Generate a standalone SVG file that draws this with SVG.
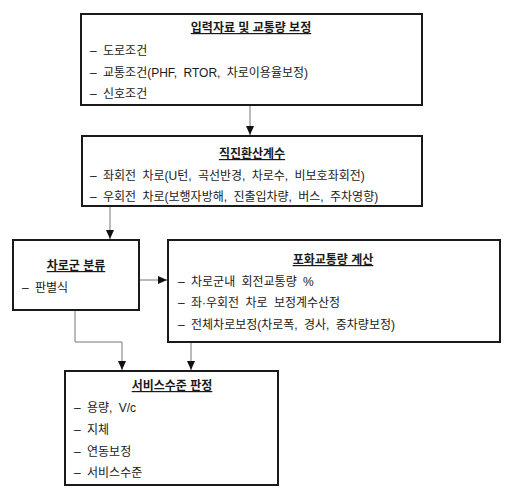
<svg xmlns="http://www.w3.org/2000/svg" width="513" height="498" viewBox="0 0 513 498">
<style>
.box{fill:#fff;stroke:#1a1a1a;stroke-width:2}
text{font-family:"Liberation Sans","Noto Sans CJK KR",sans-serif;font-size:12px;fill:#1a1a1a;word-spacing:3px}
.t{font-weight:bold;text-anchor:middle;text-decoration:underline;word-spacing:0}
.c{fill:none;stroke:#777;stroke-width:1}
</style>
<defs>
<marker id="ah" markerUnits="userSpaceOnUse" markerWidth="10" markerHeight="10" viewBox="0 0 10 10" refX="9" refY="5" orient="auto">
<path d="M0,1 L9,5 L0,9 Z" fill="#111"/>
</marker>
</defs>
<rect width="513" height="498" fill="#fff"/>
<g id="connectors">
<line class="c" x1="250" y1="106" x2="250" y2="135" marker-end="url(#ah)"/>
<line class="c" x1="110" y1="206" x2="110" y2="239" marker-end="url(#ah)"/>
<line class="c" x1="140" y1="280" x2="167" y2="280" marker-end="url(#ah)"/>
<polyline class="c" points="75,311 75,342 122,342 122,370" marker-end="url(#ah)"/>
<line class="c" x1="191" y1="343" x2="191" y2="370" marker-end="url(#ah)"/>
</g>
<g id="node-input">
<rect class="box" x="81" y="14" width="341" height="91"/>
<text class="t" x="251" y="32">입력자료 및 교통량 보정</text>
<text x="90" y="55">– 도로조건</text>
<text x="90" y="77">– 교통조건(PHF, RTOR, 차로이용율보정)</text>
<text x="90" y="98">– 신호조건</text>
</g>
<g id="node-factor">
<rect class="box" x="82" y="136" width="340" height="70"/>
<text class="t" x="252" y="158">직진환산계수</text>
<text x="90" y="180">– 좌회전 차로(U턴, 곡선반경, 차로수, 비보호좌회전)</text>
<text x="90" y="201">– 우회전 차로(보행자방해, 진출입차량, 버스, 주차영향)</text>
</g>
<g id="node-lanegroup">
<rect class="box" x="13" y="240" width="126" height="70"/>
<text class="t" x="76" y="270">차로군 분류</text>
<text x="22" y="292">– 판별식</text>
</g>
<g id="node-saturation">
<rect class="box" x="168" y="240" width="332" height="102"/>
<text class="t" x="333" y="264">포화교통량 계산</text>
<text x="178" y="286">– 차로군내 회전교통량 %</text>
<text x="178" y="307">– 좌·우회전 차로 보정계수산정</text>
<text x="178" y="329">– 전체차로보정(차로폭, 경사, 중차량보정)</text>
</g>
<g id="node-los">
<rect class="box" x="65" y="371" width="213" height="114"/>
<text class="t" x="172" y="390">서비스수준 판정</text>
<text x="74" y="412">– 용량, V/c</text>
<text x="74" y="434">– 지체</text>
<text x="74" y="456">– 연동보정</text>
<text x="74" y="477">– 서비스수준</text>
</g>
</svg>
